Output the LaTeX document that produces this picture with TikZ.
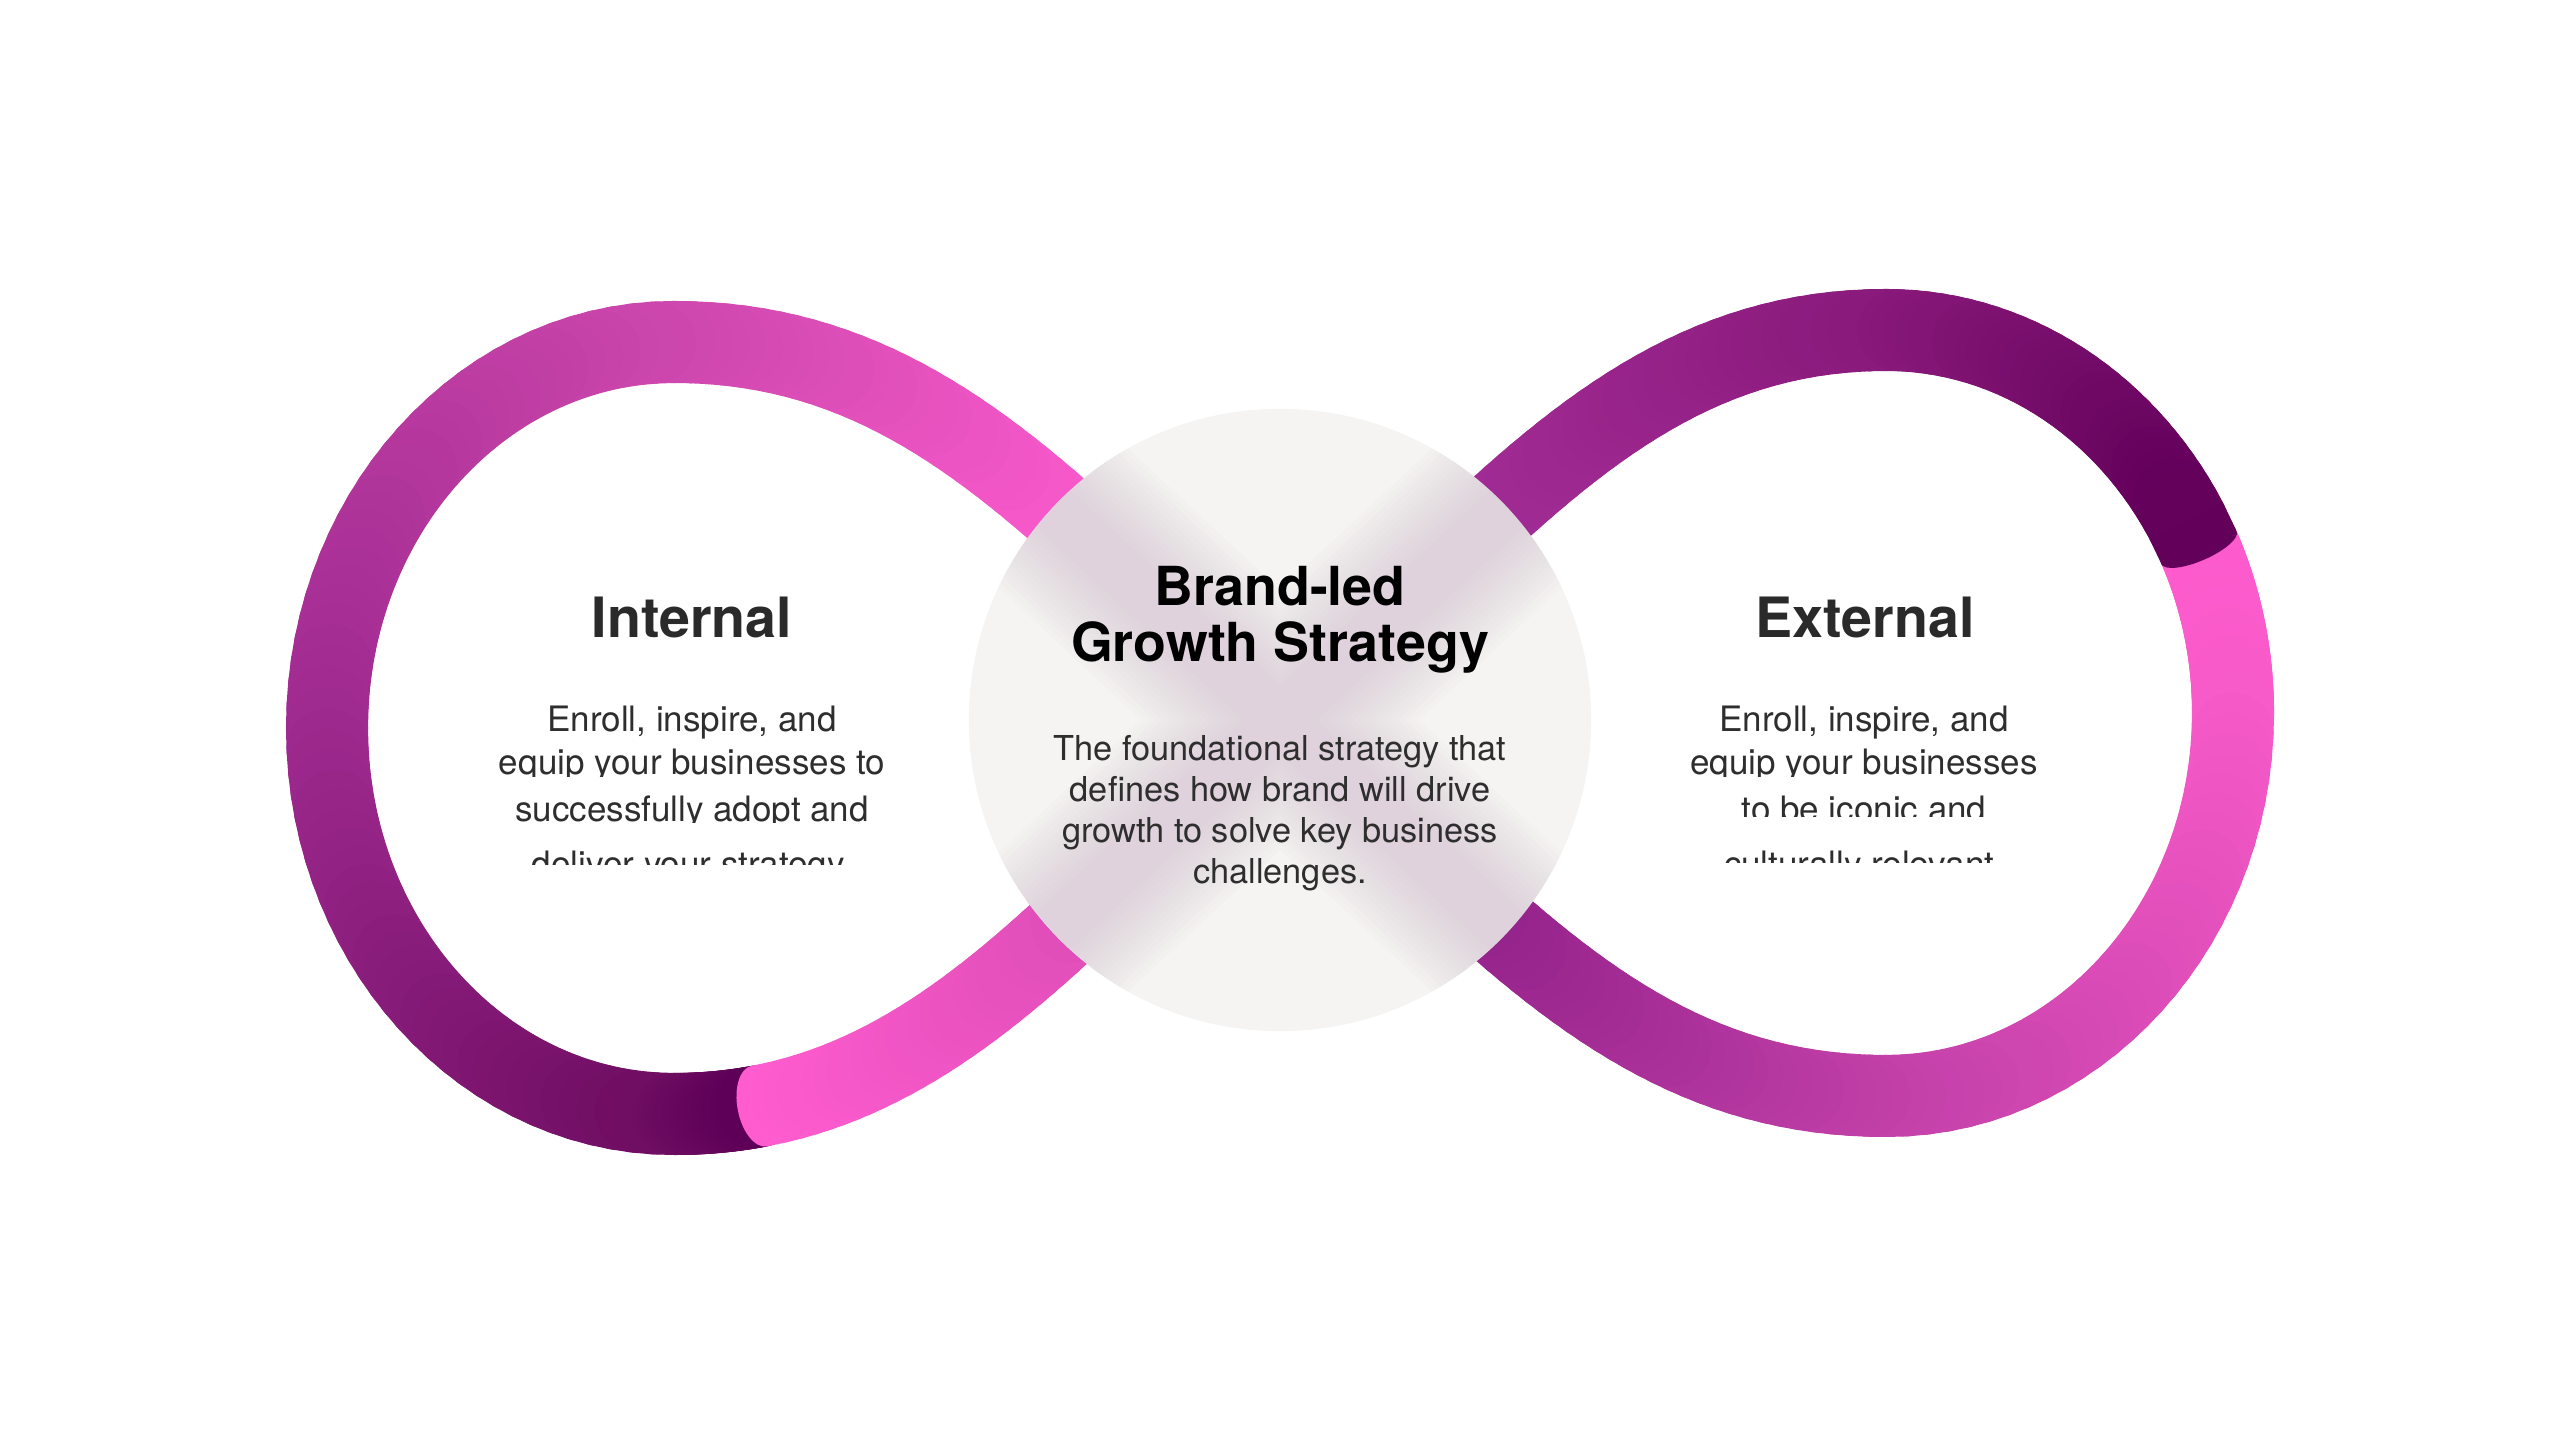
\documentclass[tikz,border=0pt]{standalone}
\usepackage{fontspec}
\setmainfont{TeX Gyre Heros}
\usepackage{tikz}
\usetikzlibrary{calc}

\definecolor{pinkhi}{HTML}{FF5CCF}
\definecolor{orchid}{HTML}{CF48AF}
\definecolor{violet}{HTML}{A02A90}
\definecolor{plum}{HTML}{6E0D62}
\definecolor{plumdark}{HTML}{5E0058}
\definecolor{rosemid}{HTML}{DC4CB6}
\definecolor{pinksoft}{HTML}{F85AC9}
\definecolor{orchidlow}{HTML}{C441AA}
\definecolor{purplemid}{HTML}{93228A}
\definecolor{purplehi}{HTML}{A52E98}
\definecolor{purpletop}{HTML}{8A1A7C}
\definecolor{plumend}{HTML}{62005A}
\definecolor{discgray}{HTML}{F5F4F2}
\definecolor{haze}{HTML}{C4A0C0}
\definecolor{inktitle}{HTML}{2A2A2A}
\definecolor{inkbody}{HTML}{2E2E2E}

% stroke one cubic piece from pos #7 to pos #8, colour #5 -> #6
\newcommand\gradpiece[8]{%
  \foreach \k in {1,...,30}{%
    \pgfmathsetmacro\ta{#7+(#8-#7)*(\k-1)/30}%
    \pgfmathsetmacro\tb{#7+(#8-#7)*\k/30}%
    \pgfmathtruncatemacro\mix{100*(\k-0.5)/30}%
    \path (#1) .. controls (#2) and (#3) .. (#4)
      coordinate[pos=\ta] (ga) coordinate[pos=\tb] (gb);
    \draw[band, draw=#6!\mix!#5] (ga) -- (gb);
  }}

\begin{document}
\begin{tikzpicture}[
    x=0.01cm, y=0.01cm,
    every node/.style={inner sep=0pt, align=center}
]

\tikzset{
    band/.style={line width=0.82cm, line cap=round},
    disc/.style={circle, fill=discgray, minimum size=6.22cm},
    sidetitle/.style={font=\fontsize{15.8}{19}\selectfont\bfseries, text=inktitle, anchor=base},
    sidebody/.style={font=\fontsize{9.95}{13}\selectfont, text=inkbody, anchor=base},
    hubtitle/.style={font=\fontsize{15.3}{19}\selectfont\bfseries, text=black, anchor=base},
    hubbody/.style={font=\fontsize{9.76}{12}\selectfont, text=inkbody, anchor=base}
}

\fill[white] (0,0) rectangle (2560,1440);

% crossing point and the two loops
\coordinate (cx) at (1280,720);

\coordinate (tl) at (674,1098);
\coordinate (ll) at (327,712);
\coordinate (bl) at (674,326);
\coordinate (tl-in) at (1061,925);
\coordinate (tl-out) at (924,1098);
\coordinate (tl-w) at (482,1098);
\coordinate (ll-n) at (327,925);
\coordinate (ll-s) at (327,499);
\coordinate (bl-w) at (482,326);
\coordinate (bl-e) at (924,326);
\coordinate (bl-in) at (1061,515);

\coordinate (tr) at (1886,1110);
\coordinate (rr) at (2233,727);
\coordinate (br) at (1886,344);
\coordinate (tr-in) at (1499,925);
\coordinate (tr-out) at (1636,1110);
\coordinate (tr-e) at (2078,1110);
\coordinate (rr-n) at (2233,938);
\coordinate (rr-s) at (2233,516);
\coordinate (br-e) at (2078,344);
\coordinate (br-w) at (1636,344);
\coordinate (br-in) at (1499,515);

% left loop, dark run
\gradpiece{cx}{tl-in}{tl-out}{tl}{pinkhi}{orchid}{0.3}{1}
\gradpiece{tl}{tl-w}{ll-n}{ll}{orchid}{violet}{0}{1}
\gradpiece{ll}{ll-s}{bl-w}{bl}{violet}{plum}{0}{1}
\gradpiece{bl}{bl-e}{bl-in}{cx}{plum}{plumdark}{0}{0.12}

% left loop, pink run with its cap
\path (bl) .. controls (bl-e) and (bl-in) .. (cx)
    coordinate[pos=0.12] (capl) coordinate[pos=0.149] (capl-2);
\draw[band, line cap=butt, draw=pinkhi] (capl) -- (capl-2);
\fill[pinkhi, rotate around={11:(capl)}] (capl) ellipse[x radius=0.22cm, y radius=0.41cm];
\gradpiece{bl}{bl-e}{bl-in}{cx}{pinkhi}{rosemid}{0.149}{0.75}

% right loop, pink run
\gradpiece{tr}{tr-e}{rr-n}{rr}{pinkhi}{pinksoft}{0.72}{1}
\gradpiece{rr}{rr-s}{br-e}{br}{pinksoft}{orchidlow}{0}{1}
\gradpiece{br}{br-w}{br-in}{cx}{orchidlow}{purplemid}{0}{0.7}

% right loop, dark run with its cap
\gradpiece{cx}{tr-in}{tr-out}{tr}{purplehi}{purpletop}{0.3}{1}
\gradpiece{tr}{tr-e}{rr-n}{rr}{purpletop}{plumend}{0}{0.669}
\path (tr) .. controls (tr-e) and (rr-n) .. (rr)
    coordinate[pos=0.669] (capr-2) coordinate[pos=0.72] (capr);
\draw[band, line cap=butt, draw=plumend] (capr-2) -- (capr);
\fill[plumend, rotate around={-66.5:(capr)}] (capr) ellipse[x radius=0.13cm, y radius=0.41cm];

% frosted hub
\node[disc] (hub) at (cx) {};
\begin{scope}
    \clip (cx) circle[radius=3.11cm];
    \foreach \w in {1.9,1.8,...,0.5}{
        \draw[haze, line width=\w cm, opacity=0.028]
            ($(cx)+(137:3.6cm)$) -- ($(cx)+(-43:3.6cm)$)
            ($(cx)+(43:3.6cm)$) -- ($(cx)+(-137:3.6cm)$);
    }
\end{scope}

\node[hubtitle] (hub-t1) at (1280,834) {Brand-led};
\node[hubtitle] (hub-t2) at (1280,778) {Growth Strategy};
\node[hubbody] (hub-b1) at (1280,679) {The foundational strategy that};
\node[hubbody] (hub-b2) at (1280,638) {defines how brand will drive};
\node[hubbody] (hub-b3) at (1280,597) {growth to solve key business};
\node[hubbody] (hub-b4) at (1280,556) {challenges.};

% internal side
\node[sidetitle] (int-title) at (692,802) {Internal};
\node[sidebody] (int-1) at (692,708) {Enroll, inspire, and};
\begin{scope}
    \clip (400,663) rectangle (990,700);
    \node[sidebody] (int-2) at (692,665) {equip your businesses to};
\end{scope}
\begin{scope}
    \clip (400,617) rectangle (990,655);
    \node[sidebody] (int-3) at (692,618) {successfully adopt and};
\end{scope}
\begin{scope}
    \clip (400,575) rectangle (990,610);
    \node[sidebody] (int-4) at (692,563) {deliver your strategy.};
\end{scope}

% external side
\node[sidetitle] (ext-title) at (1865,802) {External};
\node[sidebody] (ext-1) at (1864,708) {Enroll, inspire, and};
\begin{scope}
    \clip (1570,663) rectangle (2160,700);
    \node[sidebody] (ext-2) at (1864,665) {equip your businesses};
\end{scope}
\begin{scope}
    \clip (1570,623) rectangle (2160,655);
    \node[sidebody] (ext-3) at (1864,618) {to be iconic and};
\end{scope}
\begin{scope}
    \clip (1570,577) rectangle (2160,610);
    \node[sidebody] (ext-4) at (1864,563) {culturally relevant.};
\end{scope}

\end{tikzpicture}
\end{document}
